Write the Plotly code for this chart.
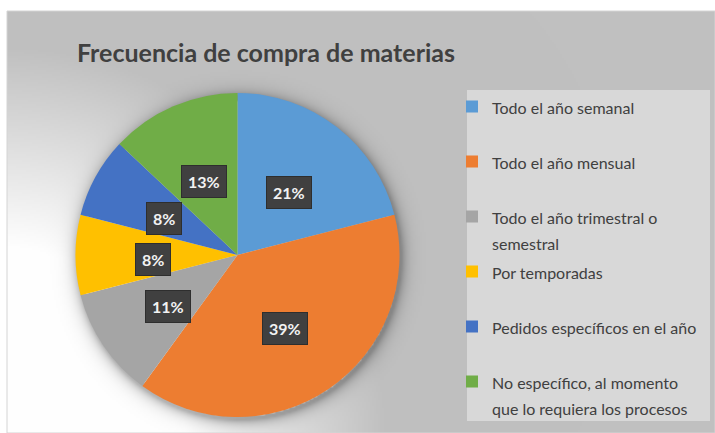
import math, zlib, struct, base64
import plotly.graph_objects as go

# ---- data ----
categories = [
    "Todo el año semanal",
    "Todo el año mensual",
    "Todo el año trimestral o<br>semestral",
    "Por temporadas",
    "Pedidos específicos en el año",
    "No específico, al momento<br>que lo requiera los procesos",
]
values = [21, 39, 11, 8, 8, 13]
colors = ["#5B9BD5", "#ED7D31", "#A5A5A5", "#FFC000", "#4472C4", "#70AD47"]
title_text = "Frecuencia de compra de materias"

W, H = 715, 433
# pie domain in pixels (left, right, top, bottom)
PX0, PX1, PY0, PY1 = 75, 400, 93, 417
cx, cy = (PX0 + PX1) / 2, (PY0 + PY1) / 2
R = min(PX1 - PX0, PY1 - PY0) / 2

# ---- background gradient image (chart area) ----
BX0, BY0 = 7, 11
BW, BH = W - BX0, H - BY0
S = 2
iw, ih = BW // S, BH // S
rows = []
for j in range(ih):
    y = BY0 + (j + 0.5) * S
    row = bytearray(iw)
    for i in range(iw):
        x = BX0 + (i + 0.5) * S
        d = math.hypot(x, y - H)
        t = min(max((d - 185) / 200, 0), 1)
        g = 255 - t * (255 - 192)
        dp = math.hypot(x - cx - 2, y - cy - 3) - R
        if dp > -4:
            g *= 1 - 0.30 * math.exp(-max(dp, 0) / 6)
        row[i] = int(max(0, min(255, g)))
    rows.append(row)

def chunk(t, d):
    c = struct.pack(">I", len(d)) + t + d
    return c + struct.pack(">I", zlib.crc32(t + d) & 0xFFFFFFFF)

raw = b"".join(b"\x00" + bytes(r) for r in rows)
png = (b"\x89PNG\r\n\x1a\n" + chunk(b"IHDR", struct.pack(">IIBBBBB", iw, ih, 8, 0, 0, 0, 0))
       + chunk(b"IDAT", zlib.compress(raw, 9)) + chunk(b"IEND", b""))
bg_src = "data:image/png;base64," + base64.b64encode(png).decode()

# legend display labels: two lines per entry (blank second line when single)
LEG_FS = 16
def leg_label(c):
    parts = c.split("<br>")
    if len(parts) == 1:
        parts.append(" ")
    return "<br>".join(f'<span style="font-size:{LEG_FS}px">{p}</span>' if p.strip() else p for p in parts)

legend_labels = [leg_label(c) for c in categories]

fig = go.Figure()
fig.add_trace(go.Pie(
    labels=legend_labels,
    values=values,
    marker=dict(colors=colors, line=dict(width=0)),
    sort=False,
    direction="clockwise",
    rotation=0,
    textinfo="none",
    hoverinfo="percent",
    domain=dict(x=[PX0 / W, PX1 / W], y=[1 - PY1 / H, 1 - PY0 / H]),
))

# data labels in dark boxes, placed from the slice mid-angles
total = sum(values)
annotations = []
cum = 0
for v in values:
    mid = (cum + v / 2) / total * 2 * math.pi
    cum += v
    lx = cx + 0.52 * R * math.sin(mid)
    ly = cy - 0.52 * R * math.cos(mid) + 4
    annotations.append(dict(
        x=lx / W, y=1 - ly / H, xref="paper", yref="paper", showarrow=False,
        xanchor="center", yanchor="middle", text=f"<b>{round(v / total * 100)}%</b>",
        borderpad=6, bgcolor="#404040", bordercolor="#2E2E2E", borderwidth=1,
        font=dict(family="Lato, sans-serif", size=16, color="#F2F2F2"),
    ))

fig.update_layout(
    width=W, height=H, autosize=False,
    margin=dict(l=0, r=0, t=0, b=0),
    paper_bgcolor="white",
    title=dict(text=title_text, x=266 / W, xanchor="center", y=1 - 53 / H, yanchor="middle",
               font=dict(family="Lato, sans-serif", size=25, color="#404040", weight="bold")),
    images=[dict(source=bg_src, xref="paper", yref="paper", x=BX0 / W, y=1 - BY0 / H,
                 sizex=BW / W, sizey=BH / H, xanchor="left", yanchor="top",
                 sizing="stretch", layer="below")],
    shapes=[
        dict(type="rect", xref="paper", yref="paper", x0=BX0 / W, x1=1, y0=0, y1=1 - BY0 / H,
             line=dict(color="#D4D4D4", width=1), fillcolor="rgba(0,0,0,0)", layer="below"),
        dict(type="rect", xref="paper", yref="paper", x0=467 / W, x1=710 / W,
             y0=1 - 421 / H, y1=1 - 90 / H, line=dict(width=0), fillcolor="#D8D8D8", layer="below"),
    ],
    legend=dict(x=452 / W, y=1 - 87 / H, xanchor="left", yanchor="top",
                bgcolor="rgba(0,0,0,0)", valign="top",
                font=dict(family="Lato, sans-serif", size=20, color="#404040")),
    annotations=annotations,
)

fig.write_html("out.html", config={"displayModeBar": False},
               post_script="document.body.style.margin='0px';")
